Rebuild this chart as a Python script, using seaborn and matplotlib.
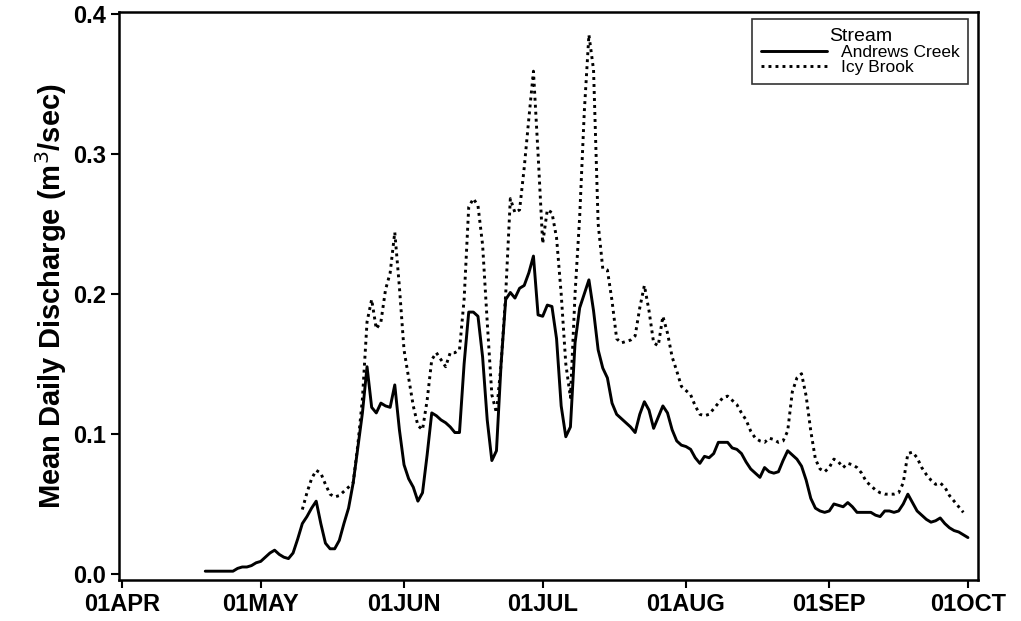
import numpy as np
import pandas as pd
import matplotlib
matplotlib.use("Agg")
import matplotlib.pyplot as plt
import seaborn as sns

# daily mean discharge (m3/sec)
andrews_start = "1999-04-19"
andrews_creek = [
    0.002, 0.002, 0.002, 0.002, 0.002, 0.002, 0.002, 0.004, 0.005, 0.005,
    0.006, 0.008, 0.009, 0.012, 0.015, 0.017, 0.014, 0.012, 0.011, 0.015,
    0.025, 0.036, 0.041, 0.047, 0.052, 0.036, 0.022, 0.018, 0.018, 0.024,
    0.036, 0.047, 0.065, 0.090, 0.115, 0.148, 0.119, 0.115, 0.122, 0.120,
    0.119, 0.135, 0.103, 0.078, 0.068, 0.062, 0.052, 0.058, 0.085, 0.115,
    0.113, 0.110, 0.108, 0.105, 0.101, 0.101, 0.150, 0.187, 0.187, 0.184,
    0.155, 0.110, 0.081, 0.088, 0.150, 0.196, 0.201, 0.197, 0.204, 0.206,
    0.215, 0.227, 0.185, 0.184, 0.192, 0.191, 0.168, 0.120, 0.098, 0.105,
    0.165, 0.190, 0.200, 0.210, 0.188, 0.160, 0.147, 0.140, 0.122, 0.114,
    0.111, 0.108, 0.105, 0.101, 0.114, 0.123, 0.117, 0.104, 0.112, 0.120,
    0.115, 0.103, 0.095, 0.092, 0.091, 0.089, 0.083, 0.079, 0.084, 0.083,
    0.086, 0.094, 0.094, 0.094, 0.090, 0.089, 0.086, 0.080, 0.075, 0.072,
    0.069, 0.076, 0.073, 0.072, 0.073, 0.081, 0.088, 0.085, 0.082, 0.077,
    0.067, 0.054, 0.047, 0.045, 0.044, 0.045, 0.050, 0.049, 0.048, 0.051,
    0.048, 0.044, 0.044, 0.044, 0.044, 0.042, 0.041, 0.045, 0.045, 0.044,
    0.045, 0.050, 0.057, 0.051, 0.045, 0.042, 0.039, 0.037, 0.038, 0.040,
    0.036, 0.033, 0.031, 0.030, 0.028, 0.026,
]

icy_start = "1999-05-10"
icy_brook = [
    0.046, 0.058, 0.068, 0.074, 0.072, 0.064, 0.057, 0.055, 0.056, 0.059,
    0.062, 0.065, 0.092, 0.125, 0.180, 0.196, 0.175, 0.180, 0.203, 0.215,
    0.244, 0.205, 0.160, 0.140, 0.120, 0.106, 0.103, 0.124, 0.153, 0.158,
    0.153, 0.148, 0.158, 0.158, 0.160, 0.196, 0.262, 0.268, 0.263, 0.235,
    0.180, 0.128, 0.115, 0.150, 0.200, 0.268, 0.258, 0.260, 0.290, 0.325,
    0.359, 0.300, 0.236, 0.260, 0.258, 0.240, 0.200, 0.150, 0.126, 0.200,
    0.255, 0.330, 0.385, 0.360, 0.250, 0.218, 0.217, 0.195, 0.168, 0.165,
    0.166, 0.167, 0.170, 0.190, 0.206, 0.188, 0.165, 0.163, 0.184, 0.172,
    0.155, 0.145, 0.134, 0.131, 0.128, 0.120, 0.114, 0.113, 0.114, 0.118,
    0.122, 0.126, 0.127, 0.124, 0.121, 0.115, 0.110, 0.102, 0.097, 0.095,
    0.094, 0.097, 0.096, 0.094, 0.095, 0.102, 0.130, 0.140, 0.143, 0.127,
    0.102, 0.082, 0.075, 0.073, 0.076, 0.082, 0.080, 0.076, 0.079, 0.078,
    0.076, 0.072, 0.066, 0.063, 0.060, 0.058, 0.057, 0.057, 0.057, 0.058,
    0.065, 0.086, 0.087, 0.083, 0.076, 0.071, 0.067, 0.064, 0.065, 0.062,
    0.056, 0.052, 0.048, 0.044,
]

month_ticks = ["1999-04-01", "1999-05-01", "1999-06-01", "1999-07-01",
               "1999-08-01", "1999-09-01", "1999-10-01"]
y_ticks = [0.0, 0.1, 0.2, 0.3, 0.4]

df = pd.concat([
    pd.DataFrame({"Date": pd.date_range(andrews_start, periods=len(andrews_creek)),
                  "Discharge": andrews_creek, "Stream": "Andrews Creek"}),
    pd.DataFrame({"Date": pd.date_range(icy_start, periods=len(icy_brook)),
                  "Discharge": icy_brook, "Stream": "Icy Brook"}),
])

sns.set_theme(style="ticks")
plt.rcParams["font.family"] = ["Liberation Sans", "DejaVu Sans"]
plt.rcParams["text.color"] = "black"
plt.rcParams["axes.labelcolor"] = "black"

fig = plt.figure(figsize=(10.21, 6.21), dpi=100)
ax = fig.add_axes([0.1166, 0.066, 0.8414, 0.915])

sns.lineplot(data=df, x="Date", y="Discharge", hue="Stream", style="Stream",
             palette={"Andrews Creek": "black", "Icy Brook": "black"},
             dashes={"Andrews Creek": "", "Icy Brook": (1, 1.4)},
             linewidth=2.1, ax=ax)

t0 = pd.Timestamp("1999-04-01")
ax.set_xlim(t0 - pd.Timedelta(days=0.65), t0 + pd.Timedelta(days=185.2))
ax.set_ylim(-0.0043, 0.4014)
ax.set_xticks(pd.to_datetime(month_ticks))
ax.set_xticklabels([pd.Timestamp(m).strftime("%d%b").upper() for m in month_ticks])
ax.set_yticks(y_ticks)
ax.set_yticklabels([f"{v:.1f}" for v in y_ticks])

for sp in ax.spines.values():
    sp.set_visible(True)
    sp.set_color("black")
    sp.set_linewidth(1.8)
ax.tick_params(axis="both", direction="out", length=6, width=1.5,
               colors="black", labelsize=17)
for lbl in ax.get_xticklabels() + ax.get_yticklabels():
    lbl.set_fontweight("bold")

ax.set_xlabel("")
ax.set_ylabel("Mean Daily Discharge (m$^3$/sec)", fontsize=21,
              fontweight="bold", color="black", labelpad=3)

handles, labels = ax.get_legend_handles_labels()
leg = ax.legend(handles, labels, title="Stream", loc="upper right",
                bbox_to_anchor=(0.9885, 0.987), fontsize=12.5, title_fontsize=14,
                frameon=True, fancybox=False, handlelength=3.8,
                borderpad=0.5, labelspacing=0.0, handletextpad=0.8,
                borderaxespad=0.0)
leg.get_frame().set_edgecolor("black")
leg.get_frame().set_linewidth(1.2)
leg.get_title().set_color("black")

fig.savefig("out.png", dpi=100)
plt.close()
